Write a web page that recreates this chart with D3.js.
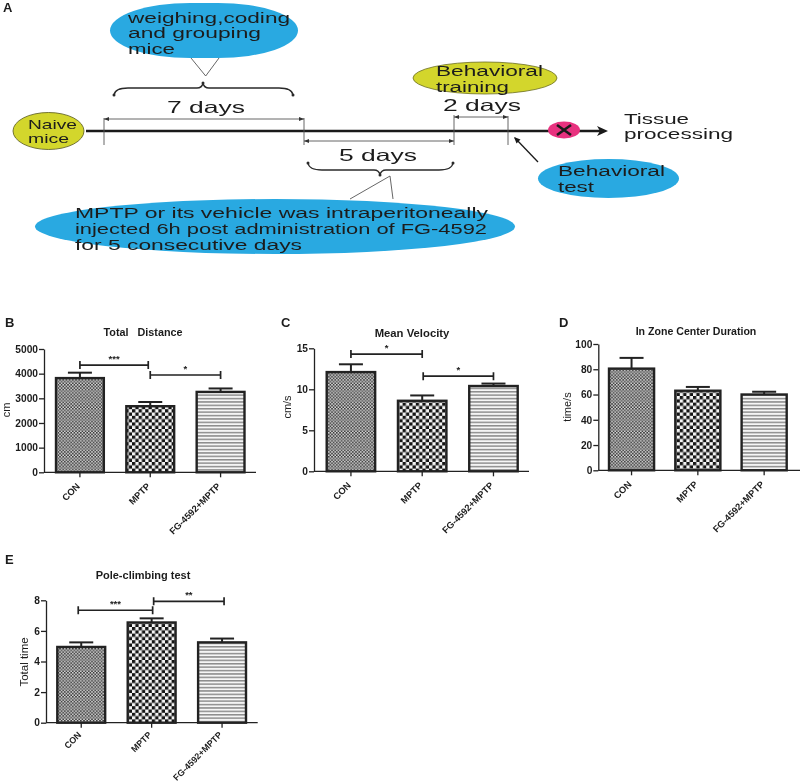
<!DOCTYPE html>
<html>
<head>
<meta charset="utf-8">
<script src="https://cdn.jsdelivr.net/npm/d3@7"></script>
<style>
html,body{margin:0;padding:0;background:#fff}
svg{display:block;filter:blur(.35px)}
text{font-family:"Liberation Sans",Arial,sans-serif;fill:#1c1c1c}
.tick text{font-weight:700}
</style>
</head>
<body>
<svg id="fig" width="800" height="784"></svg>
<script>
// values
const categories=['CON','MPTP','FG-4592+MPTP'];

const distanceMean=[3820,2680,3260];
const distanceErr=[220,170,140];
const distanceTicks=[0,1000,2000,3000,4000,5000];
const distanceSig=[[0,1,4350,'***'],[1,2,3945,'*']];

const velocityMean=[12.1,8.6,10.4];
const velocityErr=[0.95,0.65,0.3];
const velocityTicks=[0,5,10,15];
const velocitySig=[[0,1,14.3,'*'],[1,2,11.6,'*']];

const centerMean=[80.5,63,60];
const centerErr=[8.5,3,2.2];
const centerTicks=[0,20,40,60,80,100];

const poleMean=[4.95,6.55,5.25];
const poleErr=[0.3,0.27,0.25];
const poleTicks=[0,2,4,6,8];
const poleSig=[[0,1,7.35,'***'],[1,2,7.93,'**']];

// schematic wording + timeline
const dayMarks=[0,7,12,14];
const weighingLines=['weighing,coding','and grouping','mice'];
const mptpLines=['MPTP or its vehicle was intraperitoneally','injected 6h post administration of FG-4592','for 5 consecutive days'];
const naiveLines=['Naive','mice'];
const trainingLines=['Behavioral','training'];
const testLines=['Behavioral','test'];
const tissueLines=['Tissue','processing'];

const BLUE='#29a9e1',YELLOW='#d3d62c',PINK='#e8327f',INK='#1c1c1c',CALLOUT='#16384a';

const svg=d3.select('#fig');
const defs=svg.append('defs');

// fill textures, GraphPad style
const conP=defs.append('pattern').attr('id','pat0').attr('patternUnits','userSpaceOnUse').attr('width',3.2).attr('height',9.6);
conP.append('rect').attr('width',3.2).attr('height',9.6).attr('fill','#d2d2d2');
[[0,0],[1.6,1.6],[0,3.2],[1.6,4.8],[0,6.4],[1.6,8]].forEach(p=>conP.append('rect').attr('x',p[0]).attr('y',p[1]).attr('width',1.6).attr('height',1.6).attr('fill','#3c3c3c'));
conP.append('rect').attr('y',6.4).attr('width',3.2).attr('height',2.4).attr('fill','#8f8f8f').attr('opacity',.5);

const mpP=defs.append('pattern').attr('id','pat1').attr('patternUnits','userSpaceOnUse').attr('width',6.6).attr('height',6.6);
mpP.append('rect').attr('width',6.6).attr('height',6.6).attr('fill','#f4f4f4');
mpP.append('rect').attr('width',3.3).attr('height',3.3).attr('fill','#141414');
mpP.append('rect').attr('x',3.3).attr('y',3.3).attr('width',3.3).attr('height',3.3).attr('fill','#141414');

const fgP=defs.append('pattern').attr('id','pat2').attr('patternUnits','userSpaceOnUse').attr('width',4).attr('height',3.4);
fgP.append('rect').attr('width',4).attr('height',3.4).attr('fill','#f6f6f6');
fgP.append('rect').attr('width',4).attr('height',1.5).attr('fill','#8c8c8c');

function panel(o){
  const y=d3.scaleLinear().domain([0,o.ticks[o.ticks.length-1]]).range([o.y0,o.y1]);
  const x=d3.scaleBand().domain(categories).range([o.b0,o.b1]).paddingInner(.32);
  const g=svg.append('g');
  const cx=i=>x(categories[i])+x.bandwidth()/2;

  // bars
  g.selectAll('.bar').data(o.mean).enter().append('rect')
    .attr('x',(d,i)=>x(categories[i])).attr('y',d=>y(d))
    .attr('width',x.bandwidth()).attr('height',d=>o.y0-y(d))
    .attr('fill',(d,i)=>`url(#pat${i})`).attr('stroke','#222').attr('stroke-width',2.4);

  // error bars
  o.mean.forEach((m,i)=>{
    const top=y(m+o.err[i]),c=cx(i);
    g.append('line').attr('x1',c).attr('x2',c).attr('y1',y(m)).attr('y2',top).attr('stroke','#222').attr('stroke-width',2);
    g.append('line').attr('x1',c-12).attr('x2',c+12).attr('y1',top).attr('y2',top).attr('stroke','#222').attr('stroke-width',2);
  });

  // axes
  const ay=g.append('g').attr('transform',`translate(${o.ax},0)`)
    .call(d3.axisLeft(y).tickValues(o.ticks).tickFormat(d3.format('d')).tickSize(5).tickSizeOuter(0).tickPadding(1));
  const ax=g.append('g').attr('transform',`translate(0,${o.y0})`)
    .call(d3.axisBottom(x).tickSize(5).tickSizeOuter(0).tickPadding(3));
  ax.select('.domain').attr('d',`M${o.ax},0H${o.xEnd}`);
  [ay,ax].forEach(a=>{
    a.selectAll('.domain,.tick line').attr('stroke','#222').attr('stroke-width',1.3);
    a.selectAll('text').attr('fill',INK);
  });
  ay.selectAll('text').attr('font-size',10.2);
  ax.selectAll('text').attr('font-size',o.catFont||9.3).attr('text-anchor','end').attr('dy',0)
    .attr('transform',`translate(-5,${o.catY||9}) rotate(-45)`);

  // significance brackets
  (o.sig||[]).forEach((s,k)=>{
    const n=o.nudge[k],x0=cx(s[0])+n[0],x1=cx(s[1])+n[1],by=y(s[2]);
    g.append('path').attr('d',`M${x0},${by-4}V${by+4}M${x0},${by}H${x1}M${x1},${by-4}V${by+4}`)
      .attr('fill','none').attr('stroke','#222').attr('stroke-width',1.7);
    g.append('text').attr('x',(x0+x1)/2).attr('y',by-3).attr('text-anchor','middle')
      .attr('font-size',9.5).attr('font-weight',700).text(s[3]);
  });

  // titles
  g.append('text').attr('x',o.titleX).attr('y',o.titleY).attr('text-anchor','middle')
    .attr('font-size',o.titleFont).attr('font-weight',700).attr('xml:space','preserve').style('white-space','pre').text(o.title);
  g.append('text').attr('transform',`translate(${o.labX},${o.labY}) rotate(-90)`).attr('text-anchor','middle')
    .attr('font-size',o.labFont||11).text(o.label);
  g.append('text').attr('x',o.letterX).attr('y',o.letterY).attr('font-size',13).attr('font-weight',700).attr('fill','#111').text(o.letter);
}

panel({letter:'B',letterX:5,letterY:327,title:'Total   Distance',titleX:143,titleY:336,titleFont:10.8,label:'cm',labX:10,labY:410,
  mean:distanceMean,err:distanceErr,ticks:distanceTicks,sig:distanceSig,nudge:[[0,-2],[0,0]],
  ax:44,xEnd:256,b0:56,b1:244.5,y0:472.3,y1:349});
panel({letter:'C',letterX:281,letterY:327,title:'Mean Velocity',titleX:412,titleY:337,titleFont:11.3,label:'cm/s',labX:291,labY:407,
  mean:velocityMean,err:velocityErr,ticks:velocityTicks,sig:velocitySig,nudge:[[0,0],[1,0]],
  ax:314,xEnd:529,b0:326.7,b1:517.7,y0:471.3,y1:348.3});
panel({letter:'D',letterX:559,letterY:327,title:'In Zone Center Duration',titleX:696,titleY:335,titleFont:10.6,label:'time/s',labX:571,labY:407,
  mean:centerMean,err:centerErr,ticks:centerTicks,
  ax:598.3,xEnd:800,b0:609,b1:786.7,y0:470.3,y1:344});
panel({letter:'E',letterX:5,letterY:564,title:'Pole-climbing test',titleX:143,titleY:579,titleFont:11,label:'Total time',labX:28,labY:662,labFont:11.5,
  mean:poleMean,err:poleErr,ticks:poleTicks,sig:poleSig,nudge:[[-3,1],[2,2]],catFont:8.9,catY:7,
  ax:46,xEnd:257.7,b0:57.3,b1:246,y0:722.7,y1:600.3});

// ---- schematic (panel A) ----
const a=svg.append('g');
const tx=d3.scaleLinear().domain(dayMarks).range([104,304,454,508]);
const LINE_Y=131;

a.append('text').attr('x',3).attr('y',12).attr('font-size',13).attr('font-weight',700).attr('fill','#111').text('A');

function blob(cx,cy,rx,ry,fill,stroke){
  a.append('ellipse').attr('cx',cx).attr('cy',cy).attr('rx',rx).attr('ry',ry).attr('fill',fill).attr('stroke',stroke||'none').attr('stroke-width',.8);
}
function label(t,x,y,w,size,col){
  a.append('text').attr('x',x).attr('y',y).attr('font-size',size).attr('fill',col||INK)
    .attr('textLength',w).attr('lengthAdjust','spacingAndGlyphs').text(t);
}
function thin(pts,col,sw){
  a.append('path').attr('d',d3.line()(pts)).attr('fill','none').attr('stroke',col||'#555').attr('stroke-width',sw||.9);
}
function dim(d0,d1,y){
  const x0=tx(d0),x1=tx(d1);
  thin([[x0,y],[x1,y]]);
  a.append('path').attr('d',`M${x0},${y}l5,-2v4zM${x1},${y}l-5,-2v4z`).attr('fill','#333');
}
// curly brace with its point at (mx, tipY), ends on baseY
function brace(x0,x1,mx,baseY,bodyY,tipY){
  const p=d3.path();
  p.moveTo(x0,baseY);
  p.quadraticCurveTo(x0+1,bodyY,x0+14,bodyY);
  p.lineTo(mx-6,bodyY);
  p.quadraticCurveTo(mx-1,bodyY,mx,tipY);
  p.quadraticCurveTo(mx+1,bodyY,mx+6,bodyY);
  p.lineTo(x1-14,bodyY);
  p.quadraticCurveTo(x1-1,bodyY,x1,baseY);
  a.append('path').attr('d',p.toString()).attr('fill','none').attr('stroke','#2a2a2a').attr('stroke-width',1.3);
  [[x0,baseY],[x1,baseY],[mx,tipY]].forEach(c=>a.append('circle').attr('cx',c[0]).attr('cy',c[1]).attr('r',1.5).attr('fill','#2a2a2a'));
}

// timeline and its arrow
a.append('line').attr('x1',86).attr('x2',600).attr('y1',LINE_Y).attr('y2',LINE_Y).attr('stroke','#1a1a1a').attr('stroke-width',2.6);
a.append('path').attr('d',`M608,${LINE_Y}L597,${LINE_Y-5}L600,${LINE_Y}L597,${LINE_Y+5}Z`).attr('fill','#1a1a1a');

// day boundaries
thin([[tx(0),118],[tx(0),145]]);
thin([[tx(7),118],[tx(7),145]]);
thin([[tx(12),115],[tx(12),145]]);
thin([[tx(14),116],[tx(14),145]]);
dim(0,7,119);
dim(7,12,141);
dim(12,14,117);

label('7 days',167,113,78,16.5);
label('5 days',339,161,78,16.5);
label('2 days',443,111,78,16.5);

// weighing callout
thin([[191,58],[205.7,76],[219,58]]);
a.append('rect').attr('x',110).attr('y',3).attr('width',188).attr('height',55).attr('rx',80).attr('ry',27.5).attr('fill',BLUE);
weighingLines.forEach((t,i)=>label(t,128,[23,38,54][i],[162,133,47][i],14,CALLOUT));
brace(114,293,203,95,88,83);

// MPTP callout
brace(308,453,380,163,170,175);
thin([[350,199],[390,176],[393,199]]);
blob(275,226.5,240,27.5,BLUE);
mptpLines.forEach((t,i)=>label(t,75,[218,234,250][i],[413,412,227][i],14,CALLOUT));

// Naive mice
blob(48.5,131,35.5,18.5,YELLOW,'#55571a');
naiveLines.forEach((t,i)=>label(t,28,[129,143][i],[49,41][i],13));

// Behavioral training
blob(485,78,72,16,YELLOW,'#6b6d1f');
trainingLines.forEach((t,i)=>label(t,436,[76,92][i],[107,73][i],14));

// sacrifice marker
blob(564,130,16,8.5,PINK);
a.append('path').attr('d','M557,125L571,135M571,125L557,135').attr('stroke','#1a1a1a').attr('stroke-width',2.6).attr('fill','none');

// Tissue processing
tissueLines.forEach((t,i)=>label(t,624,[124,139][i],[65,109][i],14));

// Behavioral test
thin([[538,162],[515,138]],'#1a1a1a',1.3);
a.append('path').attr('d','M514,137l6.5,2.5l-4,4z').attr('fill','#1a1a1a');
blob(608.5,178.5,70.5,19.5,BLUE);
testLines.forEach((t,i)=>label(t,558,[176,192][i],[107,36][i],14,CALLOUT));
</script>
</body>
</html>
